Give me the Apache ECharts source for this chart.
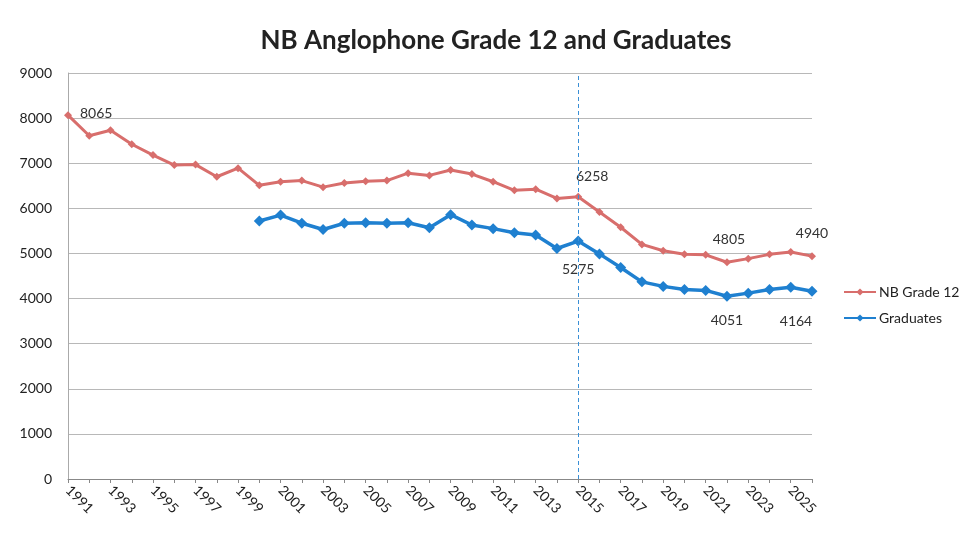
<!DOCTYPE html>
<html>
<head>
<meta charset="utf-8">
<script src="https://cdn.jsdelivr.net/npm/echarts@6/dist/echarts.min.js"></script>
<style>
  html, body { margin: 0; padding: 0; background: #fff; }
  #chart { width: 963px; height: 546px; }
</style>
</head>
<body>
<div id="chart"></div>
<script>
// years on the category axis
const years = [];
for (let y = 1991; y <= 2026; y++) years.push(String(y));

// NB Grade 12 enrolment, 1991-2026
const grade12 = [8065, 7610, 7730, 7420, 7180, 6960, 6970, 6700, 6890, 6510,
  6590, 6615, 6470, 6560, 6600, 6615, 6780, 6730, 6850, 6760,
  6590, 6400, 6425, 6220, 6258, 5920, 5580, 5200, 5060, 4980,
  4970, 4805, 4885, 4980, 5030, 4940];

// Graduates, starting 2000
const graduates = [null, null, null, null, null, null, null, null, null, 5720,
  5850, 5670, 5530, 5670, 5680, 5670, 5680, 5570, 5860, 5630,
  5550, 5460, 5410, 5110, 5275, 4990, 4690, 4370, 4270, 4200,
  4180, 4051, 4120, 4200, 4250, 4164];

const yTicks = [0, 1000, 2000, 3000, 4000, 5000, 6000, 7000, 8000, 9000];

// which points carry a value label, and where
const redLabels = { '1991': 'right', '2015': 'top', '2022': 'top', '2026': 'top' };
const blueLabels = { '2015': 'bottom', '2022': 'bottom', '2026': 'bottom' };

const font = 'Lato, "Open Sans", sans-serif';

function withLabels(values, labels, extra) {
  return values.map((v, i) => {
    const pos = labels[years[i]];
    if (!pos || v == null) return v;
    return {
      value: v,
      label: Object.assign({
        show: true, position: pos, distance: 12,
        color: '#333', fontSize: 14, fontFamily: font
      }, (extra[years[i]] || {}))
    };
  });
}

const chart = echarts.init(document.getElementById('chart'));
chart.setOption({
  animation: false,
  backgroundColor: '#fff',
  title: {
    text: 'NB Anglophone Grade 12 and Graduates',
    left: 491, top: 23, textAlign: 'center',
    textStyle: { fontFamily: font, fontSize: 26, fontWeight: 'bold', color: '#222' }
  },
  legend: {
    orient: 'vertical',
    left: 838, top: 280,
    itemWidth: 32, itemHeight: 9, itemGap: 12,
    textStyle: { fontFamily: font, fontSize: 14, color: '#222', padding: [0, 0, 0, -2] },
    data: ['NB Grade 12', 'Graduates']
  },
  grid: { left: 68, right: 151, top: 73, bottom: 67 },
  xAxis: {
    type: 'category',
    data: years,
    boundaryGap: false,
    axisLine: { lineStyle: { color: '#888' } },
    axisTick: { interval: 0, length: 4, lineStyle: { color: '#888' } },
    axisLabel: {
      interval: 1, rotate: -45, color: '#222', fontSize: 14, fontFamily: font, margin: 9
    }
  },
  yAxis: {
    type: 'value',
    min: yTicks[0], max: yTicks[yTicks.length - 1], interval: 1000,
    axisLine: { show: true, lineStyle: { color: '#aaa' } },
    axisTick: { show: false },
    axisLabel: { color: '#222', fontSize: 14, fontFamily: font, margin: 16, formatter: v => String(v) },
    splitLine: { lineStyle: { color: '#b8b8b8' } }
  },
  series: [
    {
      name: 'NB Grade 12',
      type: 'line',
      data: withLabels(grade12, redLabels, {
        '1991': { distance: 8, offset: [0, -2] },
        '2015': { offset: [14, 3] },
        '2022': { offset: [2, 0] }
      }),
      symbol: 'diamond', symbolSize: 8, showAllSymbol: true,
      lineStyle: { color: '#d86e6c', width: 3 },
      itemStyle: { color: '#d86e6c' },
      markLine: {
        silent: true, symbol: 'none', label: { show: false },
        lineStyle: { color: '#3a8fd6', type: [4, 3], width: 1 },
        data: [{ xAxis: '2015' }]
      }
    },
    {
      name: 'Graduates',
      type: 'line',
      data: withLabels(graduates, blueLabels, {
        '2015': { distance: 16 },
        '2026': { offset: [-16, 6] }
      }),
      symbol: 'diamond', symbolSize: 11, showAllSymbol: true,
      lineStyle: { color: '#1f80d0', width: 3.5 },
      itemStyle: { color: '#1f80d0' }
    }
  ]
});
</script>
</body>
</html>
